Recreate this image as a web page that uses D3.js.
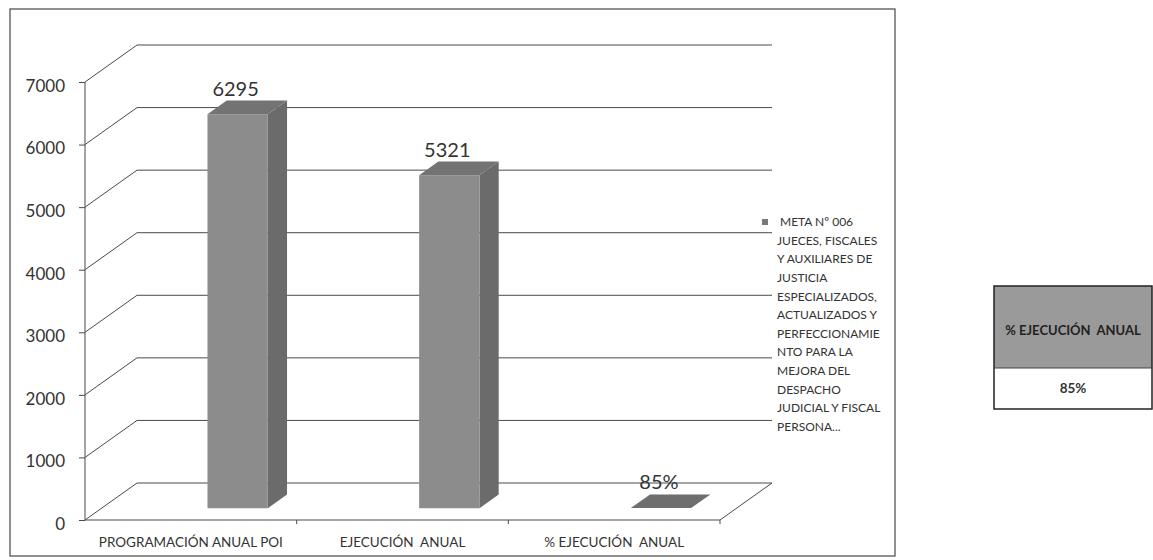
<!DOCTYPE html>
<html>
<head>
<meta charset="utf-8">
<script src="https://cdn.jsdelivr.net/npm/d3@7"></script>
<style>
  html, body { margin: 0; padding: 0; background: #ffffff; }
  svg { display: block; font-family: Lato, "Open Sans", "DejaVu Sans", sans-serif; }
  text { white-space: pre; }
</style>
</head>
<body>
<svg id="chart" width="1153" height="560"></svg>
<script>
// ---- data ----
const categories = ["PROGRAMACIÓN ANUAL POI", "EJECUCIÓN  ANUAL", "% EJECUCIÓN  ANUAL"];
const values = [6295, 5321, 0.85];
const valueLabels = ["6295", "5321", "85%"];
const yTicks = [0, 1000, 2000, 3000, 4000, 5000, 6000, 7000];
const legendLines = ["META Nº 006", "JUECES, FISCALES", "Y AUXILIARES DE", "JUSTICIA",
  "ESPECIALIZADOS,", "ACTUALIZADOS Y", "PERFECCIONAMIE", "NTO PARA LA",
  "MEJORA DEL", "DESPACHO", "JUDICIAL Y FISCAL", "PERSONA..."];
const tableHeader = "% EJECUCIÓN  ANUAL";
const tableValue = "85%";

// ---- layout ----
const svg = d3.select("#chart");
const X0 = 85, X1 = 720, Y0 = 520, Y1 = 82;
const DX = 52, DY = 37;           // depth projection offsets
const barD0 = 0.32, barD1 = 0.69; // bar depth range (fraction)

const x = d3.scaleBand().domain(categories).range([X0, X1]);
const y = d3.scaleLinear().domain([0, 7000]).range([Y0, Y1]);
const proj = (px, v, d) => [px + d * DX, y(v) - d * DY];

// outer border
svg.append("rect").attr("x", 10).attr("y", 9).attr("width", 885).attr("height", 547)
  .attr("fill", "none").attr("stroke", "#555").attr("stroke-width", 1.3);

const gridColor = "#4a4a4a";
const grid = svg.append("g").attr("stroke", gridColor).attr("stroke-width", 1).attr("fill", "none");

// side wall diagonals and back wall gridlines
yTicks.forEach(t => {
  const a = proj(X0, t, 0), b = proj(X0, t, 1), c = proj(X1, t, 1);
  grid.append("path").attr("d", `M${a[0]},${a[1]}L${b[0]},${b[1]}L${c[0]},${c[1]}`);
});
// floor front edge and right edge
{
  const a = proj(X0, 0, 0), b = proj(X1, 0, 0), c = proj(X1, 0, 1);
  grid.append("path").attr("d", `M${a[0]},${a[1]}L${b[0]},${b[1]}L${c[0]},${c[1]}`);
}
// y axis line
grid.append("line").attr("x1", X0).attr("x2", X0).attr("y1", y(7000)).attr("y2", y(0));

// y axis ticks and labels via d3 axis
const yAxis = d3.axisLeft(y).tickValues(yTicks).tickSize(6).tickFormat(d3.format("d"));
const gy = svg.append("g").attr("transform", `translate(${X0},0)`).call(yAxis);
gy.select(".domain").remove();
gy.selectAll(".tick line").attr("stroke", gridColor);
gy.selectAll(".tick text").attr("x", -20).attr("dy", "0.55em")
  .attr("font-size", 17).attr("fill", "#333").attr("font-family", "Lato, sans-serif");

// x axis category labels + ticks
const xAxis = d3.axisBottom(x).tickSize(0).tickPadding(0);
const gx = svg.append("g").attr("transform", `translate(0,${Y0})`).call(xAxis);
gx.select(".domain").remove();
gx.selectAll(".tick text").attr("y", 27).attr("dy", 0)
  .attr("font-size", 13.5).attr("fill", "#333").attr("font-family", "Lato, sans-serif");
// boundary tick marks
[1, 2, 3].forEach(i => {
  const bx = X0 + i * x.step();
  svg.append("line").attr("x1", bx).attr("x2", bx).attr("y1", Y0).attr("y2", Y0 + 4)
    .attr("stroke", gridColor);
});

// ---- bars (3D) ----
const barW = x.bandwidth() * 0.285;
const bars = svg.append("g");
categories.forEach((c, i) => {
  const v = values[i];
  const xl = x(c) + x.bandwidth() / 2;
  const xr = xl + barW;
  const P = (px, val, d) => proj(px, val, d).join(",");
  const tall = y(0) - y(v) > 2;
  if (tall) {
    // side face
    bars.append("path")
      .attr("d", `M${P(xr, 0, barD0)}L${P(xr, 0, barD1)}L${P(xr, v, barD1)}L${P(xr, v, barD0)}Z`)
      .attr("fill", "#6b6b6b");
    // front face
    bars.append("path")
      .attr("d", `M${P(xl, 0, barD0)}L${P(xr, 0, barD0)}L${P(xr, v, barD0)}L${P(xl, v, barD0)}Z`)
      .attr("fill", "#8c8c8c");
  }
  // top face
  bars.append("path")
    .attr("d", `M${P(xl, v, barD0)}L${P(xr, v, barD0)}L${P(xr, v, barD1)}L${P(xl, v, barD1)}Z`)
    .attr("fill", tall ? "#737373" : "#6e6e6e");
  // value label
  const front = proj(xl + barW / 2, v, barD0);
  const back = proj(xl + barW / 2, v, barD1);
  svg.append("text").attr("x", front[0] - 2).attr("y", back[1] - 5)
    .attr("text-anchor", "middle").attr("font-size", 20).attr("fill", "#333")
    .text(valueLabels[i]);
});

// ---- legend ----
const lg = svg.append("g").attr("font-size", 12).attr("fill", "#333");
lg.append("rect").attr("x", 762).attr("y", 219).attr("width", 6).attr("height", 6).attr("fill", "#7a7a7a");
legendLines.forEach((t, i) => {
  lg.append("text").attr("x", i === 0 ? 780 : 777).attr("y", 222 + i * 18.6)
    .attr("dy", "0.35em").text(t);
});

// ---- side table ----
const tb = svg.append("g");
tb.append("rect").attr("x", 994).attr("y", 286).attr("width", 158).attr("height", 82).attr("fill", "#9a9a9a");
tb.append("rect").attr("x", 994).attr("y", 286).attr("width", 158).attr("height", 123)
  .attr("fill", "none").attr("stroke", "#222").attr("stroke-width", 1.5);
tb.append("line").attr("x1", 994).attr("x2", 1152).attr("y1", 368).attr("y2", 368)
  .attr("stroke", "#444").attr("stroke-width", 1);
tb.append("text").attr("x", 1073).attr("y", 330).attr("dy", "0.35em").attr("text-anchor", "middle")
  .attr("font-size", 13).attr("font-weight", "bold").attr("fill", "#222").text(tableHeader);
tb.append("text").attr("x", 1073).attr("y", 388).attr("dy", "0.35em").attr("text-anchor", "middle")
  .attr("font-size", 13.5).attr("font-weight", "bold").attr("fill", "#333").text(tableValue);
</script>
</body>
</html>
